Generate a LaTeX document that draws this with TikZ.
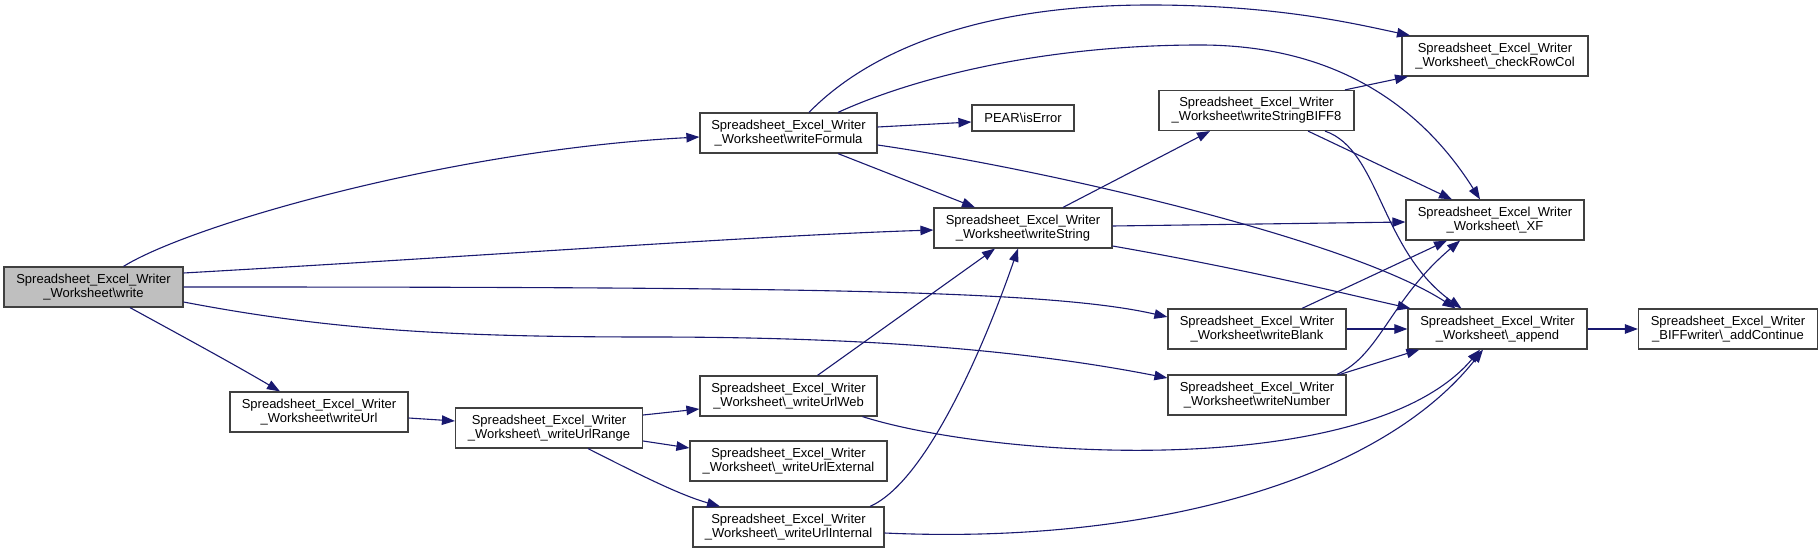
\documentclass[tikz,border=0pt]{standalone}
\usepackage{fontspec}
\setmainfont{Liberation Sans}
\usetikzlibrary{arrows.meta}
\definecolor{edgec}{HTML}{191970}
\definecolor{boxc}{HTML}{404040}
\definecolor{grayfill}{HTML}{BFBFBF}
\begin{document}
\begin{tikzpicture}[x=1pt,y=-1pt,
  box/.style={draw=boxc, line width=1.2pt, fill=white, minimum height=40pt, inner sep=0pt, align=center, font=\fontsize{13}{14}\selectfont},
  arr/.style={draw=edgec, line width=1.1pt, -{Triangle[length=13pt,width=9.5pt]}}]
\useasboundingbox (0,0) rectangle (1819,553);
\fill[white] (0,0) rectangle (1819,553);

% nodes
\node[box, fill=grayfill, minimum width=179pt] (write) at (93.5,287) {Spreadsheet\_Excel\_Writer\\\_Worksheet\textbackslash write};
\node[box, minimum width=178pt] (writeUrl) at (319,412) {Spreadsheet\_Excel\_Writer\\\_Worksheet\textbackslash writeUrl};
\node[box, minimum width=187pt] (urlRange) at (549,428) {Spreadsheet\_Excel\_Writer\\\_Worksheet\textbackslash\_writeUrlRange};
\node[box, minimum width=177pt] (writeFormula) at (788.5,133) {Spreadsheet\_Excel\_Writer\\\_Worksheet\textbackslash writeFormula};
\node[box, minimum width=177pt] (urlWeb) at (788.5,396) {Spreadsheet\_Excel\_Writer\\\_Worksheet\textbackslash\_writeUrlWeb};
\node[box, minimum width=197pt] (urlExt) at (788.5,461) {Spreadsheet\_Excel\_Writer\\\_Worksheet\textbackslash\_writeUrlExternal};
\node[box, minimum width=191pt] (urlInt) at (788.5,527) {Spreadsheet\_Excel\_Writer\\\_Worksheet\textbackslash\_writeUrlInternal};
\node[box, minimum width=102pt, minimum height=26pt] (isError) at (1023,118) {PEAR\textbackslash isError};
\node[box, minimum width=178pt] (writeString) at (1023,228) {Spreadsheet\_Excel\_Writer\\\_Worksheet\textbackslash writeString};
\node[box, minimum width=195pt] (biff8) at (1256.5,110.5) {Spreadsheet\_Excel\_Writer\\\_Worksheet\textbackslash writeStringBIFF8};
\node[box, minimum width=178pt] (writeBlank) at (1257,329) {Spreadsheet\_Excel\_Writer\\\_Worksheet\textbackslash writeBlank};
\node[box, minimum width=178pt] (writeNumber) at (1257,395) {Spreadsheet\_Excel\_Writer\\\_Worksheet\textbackslash writeNumber};
\node[box, minimum width=186pt] (checkRowCol) at (1495,56) {Spreadsheet\_Excel\_Writer\\\_Worksheet\textbackslash\_checkRowCol};
\node[box, minimum width=178pt] (XF) at (1495,220) {Spreadsheet\_Excel\_Writer\\\_Worksheet\textbackslash\_XF};
\node[box, minimum width=179pt] (append) at (1497.5,329) {Spreadsheet\_Excel\_Writer\\\_Worksheet\textbackslash\_append};
\node[box, minimum width=179pt] (addContinue) at (1728,329) {Spreadsheet\_Excel\_Writer\\\_BIFFwriter\textbackslash\_addContinue};

% edges from write
\draw[arr] ([xshift=30pt]write.north) .. controls (190,225) and (450,150) .. ([yshift=-4pt]writeFormula.west);
\draw[arr] ([yshift=14pt]write.east) .. controls (500,255) and (750,236) .. ([yshift=-2pt]writeString.west);
\draw[arr] (write.east) .. controls (800,287) and (1050,290) .. ([yshift=12pt]writeBlank.west);
\draw[arr] ([yshift=-15pt]write.east) .. controls (330,330) and (450,337) .. (650,337) .. controls (900,337) and (1050,355) .. ([yshift=17pt]writeNumber.west);
\draw[arr] ([xshift=36.5pt]write.south) .. controls (180,335) and (230,362) .. ([xshift=-39pt]writeUrl.north);

% url chain
\draw[arr] ([yshift=-6pt]writeUrl.east) -- ([yshift=7pt]urlRange.west);
\draw[arr] ([yshift=13pt]urlRange.east) -- ([yshift=-13pt]urlWeb.west);
\draw[arr] ([yshift=-13pt]urlRange.east) -- ([yshift=13pt]urlExt.west);
\draw[arr] ([xshift=39pt]urlRange.south) .. controls (640,475) and (680,495) .. ([xshift=-68.5pt]urlInt.north);
\draw[arr] ([xshift=29pt]urlWeb.north) -- ([xshift=-28pt]writeString.south);
\draw[arr] ([xshift=81.5pt]urlInt.north) .. controls (930,480) and (990,330) .. ([xshift=-5pt]writeString.south);
\draw[arr] ([xshift=74pt]urlWeb.south) .. controls (1000,460) and (1370,480) .. ([xshift=-17.5pt]append.south);
\draw[arr] ([yshift=-6pt]urlInt.east) .. controls (1150,545) and (1380,480) .. ([xshift=-14.5pt]append.south);

% writeFormula
\draw[arr] ([xshift=20.5pt]writeFormula.north) .. controls (870,50) and (980,5) .. (1150,5) .. controls (1280,5) and (1360,25) .. ([xshift=-85pt]checkRowCol.north);
\draw[arr] ([xshift=49.5pt]writeFormula.north) .. controls (920,75) and (1050,45) .. (1200,45) .. controls (1350,45) and (1430,120) .. ([xshift=-15pt]XF.north);
\draw[arr] ([yshift=6pt]writeFormula.east) -- ([yshift=-4pt]isError.west);
\draw[arr] ([xshift=49.5pt]writeFormula.south) -- ([xshift=-48pt]writeString.north);
\draw[arr] ([yshift=-12pt]writeFormula.east) .. controls (1050,170) and (1350,240) .. ([xshift=-42pt]append.north);

% writeString
\draw[arr] ([xshift=40pt]writeString.north) -- ([xshift=-46.5pt]biff8.south);
\draw[arr] ([yshift=2pt]writeString.east) -- ([yshift=-2pt]XF.west);
\draw[arr] ([yshift=-18pt]writeString.east) .. controls (1250,270) and (1350,295) .. ([xshift=-87pt]append.north);

% biff8
\draw[arr] ([xshift=88.5pt]biff8.north) -- ([xshift=-87pt]checkRowCol.south);
\draw[arr] ([xshift=51.5pt]biff8.south) -- ([xshift=-43pt]XF.north);
\draw[arr] ([xshift=68.5pt]biff8.south) .. controls (1380,150) and (1380,250) .. ([xshift=-36pt]append.north);

% writeBlank / writeNumber
\draw[arr] ([xshift=45pt]writeBlank.north) -- ([xshift=-48pt]XF.south);
\draw[arr] (writeBlank.east) -- (append.west);
\draw[arr] ([xshift=80pt]writeNumber.north) .. controls (1380,355) and (1390,300) .. ([xshift=-35pt]XF.south);
\draw[arr] ([xshift=83pt]writeNumber.north) -- ([xshift=12pt]append.south west);

% append
\draw[arr] (append.east) -- (addContinue.west);
\end{tikzpicture}
\end{document}
